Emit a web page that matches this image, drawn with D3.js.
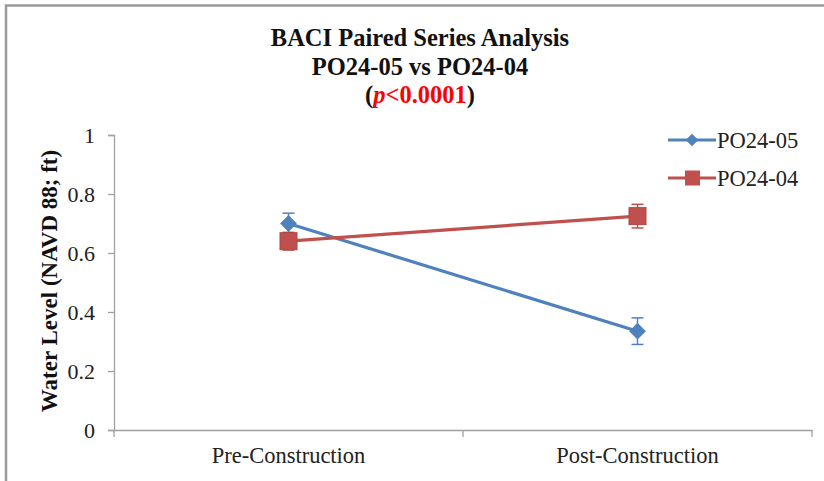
<!DOCTYPE html>
<html>
<head>
<meta charset="utf-8">
<script src="https://cdn.jsdelivr.net/npm/d3@7"></script>
<style>
body{margin:0;background:#fff;}
svg{display:block;font-family:"Liberation Serif","Times New Roman",serif;}
</style>
</head>
<body>
<svg id="chart" width="824" height="481"></svg>
<script>
const categories = ["Pre-Construction", "Post-Construction"];
const seriesNames = ["PO24-05", "PO24-04"];
const po2405 = [0.70, 0.335];
const po2405Err = [0.035, 0.045];
const po2404 = [0.64, 0.725];
const po2404Err = [0.03, 0.04];
const yTicks = [0, 0.2, 0.4, 0.6, 0.8, 1];

const colors = ["#4F81BD", "#C0504D"];
const svg = d3.select("#chart");

// frame border
svg.append("path").attr("d","M6,481 V5.5 H824").attr("fill","none").attr("stroke","#9a9a9a").attr("stroke-width",2.5);

const x = d3.scaleBand().domain(categories).range([114, 812]);
const y = d3.scaleLinear().domain([0, 1]).range([430, 135]);

const axisColor = "#a0a0a0";
const yAxis = svg.append("g").attr("transform","translate(114,0)")
  .call(d3.axisLeft(y).tickValues(yTicks).tickSize(6).tickPadding(13).tickFormat(d => d3.format("")(d)));
const xAxis = svg.append("g").attr("transform","translate(0,430)")
  .call(d3.axisBottom(x).tickSize(0).tickPadding(17));
[yAxis, xAxis].forEach(g => {
  g.selectAll("path.domain").attr("stroke", axisColor).attr("stroke-width",1.3);
  g.selectAll("line").attr("stroke", axisColor).attr("stroke-width",1.3);
  g.selectAll("text").attr("fill","#222").attr("font-family","Liberation Serif, Times New Roman, serif");
});
yAxis.selectAll("text").attr("font-size",22);
xAxis.selectAll("text").attr("font-size",22.5);
const boundaries = [x.range()[0], x(categories[1]), x.range()[1]];
svg.append("g").selectAll("line").data(boundaries).join("line")
  .attr("x1",d=>d).attr("x2",d=>d).attr("y1",430).attr("y2",437)
  .attr("stroke",axisColor).attr("stroke-width",1.3);

const cx = c => x(c) + x.bandwidth()/2;

const series = [
  {name: seriesNames[0], vals: po2405, err: po2405Err, color: colors[0], shape: "diamond"},
  {name: seriesNames[1], vals: po2404, err: po2404Err, color: colors[1], shape: "square"}
];

function marker(g, shape, color, px, py){
  if(shape === "diamond"){
    g.append("path").attr("d", d3.symbol().type(d3.symbolDiamond2).size(180)())
     .attr("transform",`translate(${px},${py})`).attr("fill",color);
  } else {
    g.append("rect").attr("x",px-8.5).attr("y",py-8.5).attr("width",17).attr("height",17)
     .attr("fill",color).attr("stroke", d3.color(color).darker(0.3)).attr("stroke-width",1);
  }
}

const line = d3.line().x((d,i)=>cx(categories[i])).y(d=>y(d));

series.forEach(s => {
  const g = svg.append("g");
  s.vals.forEach((v,i) => {
    const px = cx(categories[i]);
    g.append("line").attr("x1",px).attr("x2",px).attr("y1",y(v+s.err[i])).attr("y2",y(v-s.err[i]))
      .attr("stroke",s.color).attr("stroke-width",1.5);
    [v+s.err[i], v-s.err[i]].forEach(e => {
      g.append("line").attr("x1",px-6).attr("x2",px+6).attr("y1",y(e)).attr("y2",y(e))
        .attr("stroke",s.color).attr("stroke-width",1.5);
    });
  });
  g.append("path").attr("d", line(s.vals)).attr("fill","none").attr("stroke",s.color).attr("stroke-width",3.2);
  s.vals.forEach((v,i) => marker(g, s.shape, s.color, cx(categories[i]), y(v)));
});

// legend
series.forEach((s,i) => {
  const ly = 140 + i*38;
  const g = svg.append("g");
  g.append("line").attr("x1",668).attr("x2",716).attr("y1",ly).attr("y2",ly).attr("stroke",s.color).attr("stroke-width",3.2);
  if(s.shape === "diamond"){
    g.append("path").attr("d", d3.symbol().type(d3.symbolDiamond2).size(100)()).attr("transform",`translate(692,${ly})`).attr("fill",s.color);
  } else {
    g.append("rect").attr("x",685).attr("y",ly-7.5).attr("width",15).attr("height",15).attr("fill",s.color);
  }
  g.append("text").attr("x",717).attr("y",ly+8).attr("font-size",22.5).attr("fill","#222").text(s.name);
});

// title
const t = svg.append("g").attr("font-weight","bold").attr("font-size",24.5).attr("text-anchor","middle").attr("fill","#111");
t.append("text").attr("x",420).attr("y",46).text("BACI Paired Series Analysis");
t.append("text").attr("x",420).attr("y",75).text("PO24-05 vs PO24-04");
const t3 = t.append("text").attr("x",420).attr("y",103);
t3.append("tspan").text("(");
t3.append("tspan").attr("fill","#ff0000").attr("font-style","italic").text("p");
t3.append("tspan").attr("fill","#ff0000").text("<0.0001");
t3.append("tspan").text(")");

// y label
svg.append("text").attr("transform","translate(57,281) rotate(-90)").attr("text-anchor","middle")
  .attr("font-weight","bold").attr("font-size",23).attr("fill","#111").text("Water Level (NAVD 88; ft)");
</script>
</body>
</html>
